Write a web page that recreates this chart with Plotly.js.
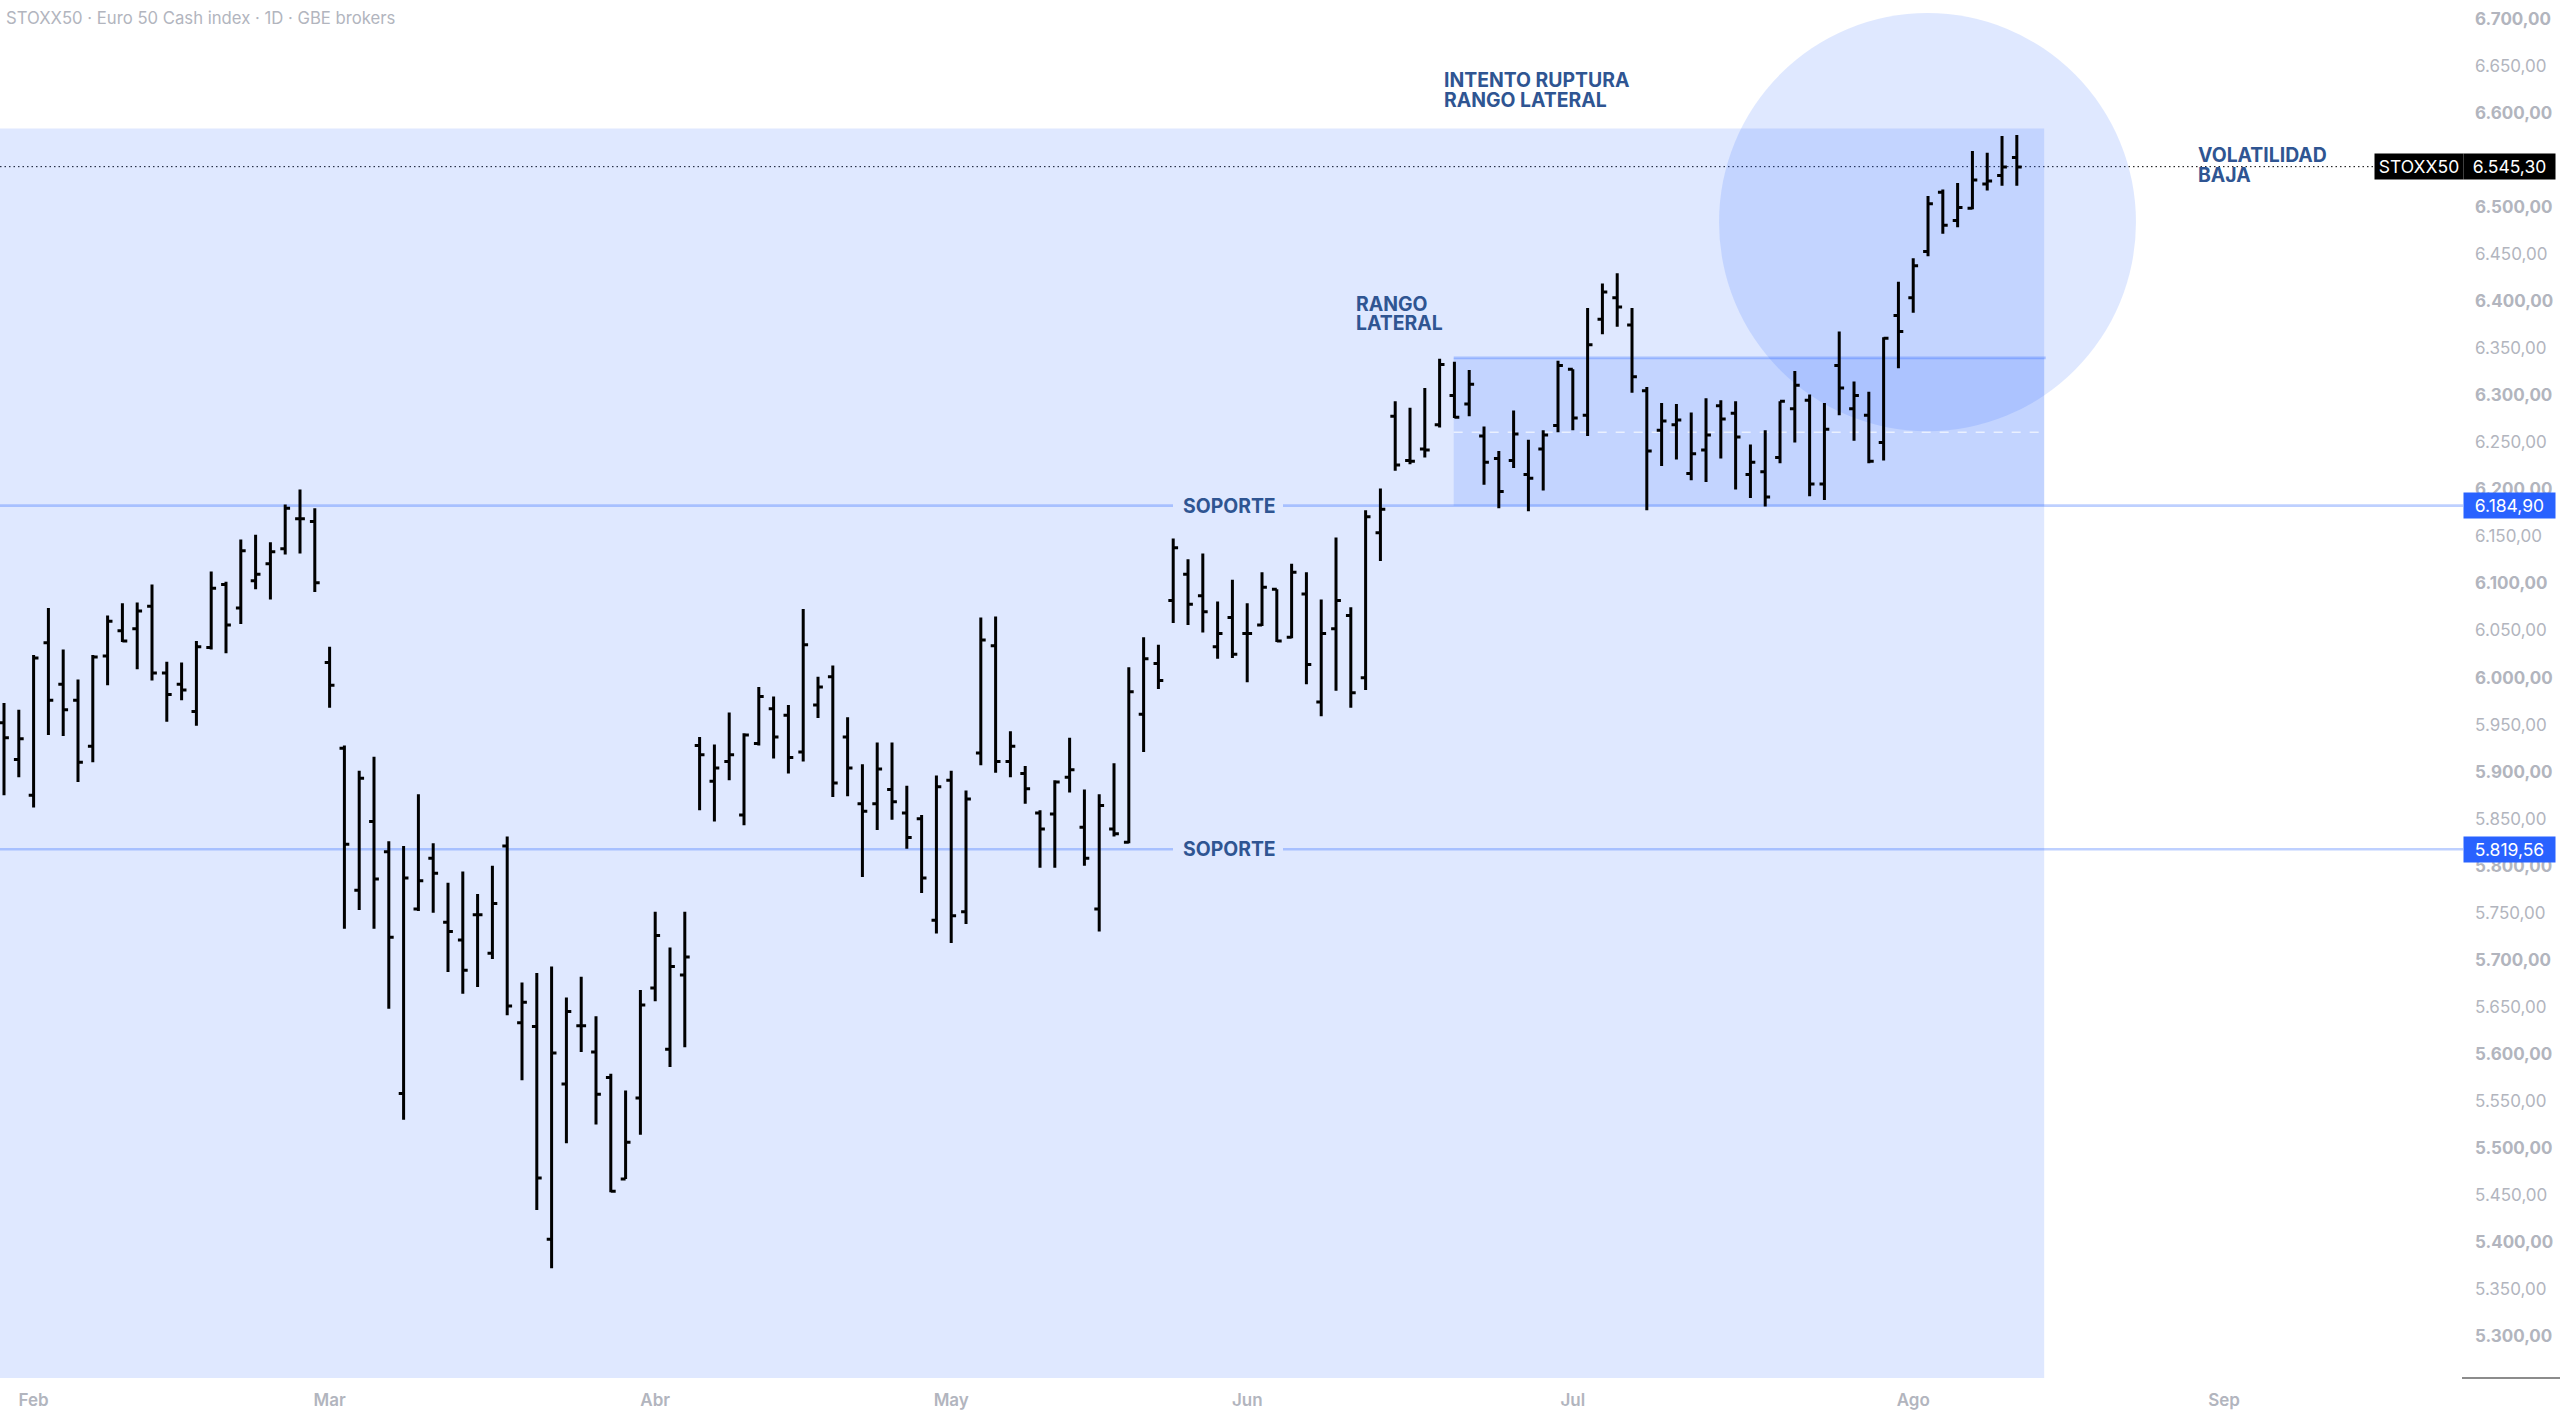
<!DOCTYPE html>
<html>
<head>
<meta charset="utf-8">
<script src="https://cdn.plot.ly/plotly-3.0.1.min.js"></script>
<style>
body { margin: 0; background: #fff; }
</style>
</head>
<body>
<div id="chart" style="width:2560px;height:1417px"></div>
<script>
// daily bars, Euro Stoxx 50 cash
var opens = [5954,5915,5877,6039,5995,5978,5929,6025,6052,6054,6078,6007,5995,5966,6034,6101,6076,6105,6123,6139,6171,6168,6018,
    5927,5776,5849,5817,5560,5756,5810,5742,5723,5750,5709,5823,5635,5631,5405,5570,5632,5604,5577,5469,5555,5672,5607,5686,
    5930,5892,5913,5856,5932,5969,5962,5923,5973,6003,5939,5868,5868,5883,5858,5852,5744,5893,5753,5922,6036,5913,5900,5858,5857,5896,5843,5756,5841,5827,5963,6017,
    6084,6112,6089,6035,6066,6049,6058,6096,6045,6091,5976,6054,6068,6002,6156,
    6280,6233,6245,6271,6302,6293,6259,6235,6233,6218,6245,6270,6330,6281,6383,6406,6377,6307,6265,6271,6219,6244,6291,6283,6218,6221,6236,6288,
    6297,6208,6334,6288,6281,6252,6387,6406,6455,6518,6488,6501,6527,6536,6555];
var highs = [5975,5968,6026,6076,6032,6000,6026,6068,6081,6082,6101,6019,6018,6041,6115,6104,6149,6154,6146,6186,6202,6182,6035,
    5930,5903,5918,5828,5823,5878,5826,5784,5796,5772,5802,5833,5678,5688,5695,5662,5684,5642,5581,5563,5670,5753,5715,5753,
    5939,5931,5965,5943,5992,5982,5973,6075,6003,6015,5960,5910,5933,5933,5887,5856,5898,5903,5882,6066,6067,5945,5908,5861,5893,5938,5883,5878,5911,6013,6045,6037,
    6150,6128,6134,6083,6106,6081,6114,6096,6123,6114,6085,6151,6077,6180,6203,
    6296,6289,6310,6341,6338,6329,6269,6243,6286,6255,6265,6339,6330,6395,6421,6432,6395,6311,6294,6293,6284,6299,6297,6296,6250,6265,6296,6328,
    6303,6294,6370,6317,6306,6364,6423,6448,6514,6521,6528,6562,6560,6578,6579];
var lows = [5877,5896,5864,5941,5940,5891,5912,5994,6040,6011,5999,5955,5978,5951,6032,6028,6059,6096,6085,6133,6134,6093,5970,
    5735,5755,5735,5650,5532,5754,5752,5689,5666,5673,5703,5643,5574,5436,5374,5507,5604,5527,5455,5469,5516,5658,5588,5609,
    5861,5849,5893,5845,5930,5916,5900,5913,5959,5875,5876,5790,5840,5851,5820,5773,5730,5720,5740,5909,5901,5896,5868,5800,5800,5880,5802,5732,5833,5826,5923,5990,
    6060,6058,6050,6022,6023,5997,6057,6040,6044,5995,5961,5988,5970,5989,6126,
    6222,6229,6236,6268,6278,6280,6207,6182,6225,6179,6201,6263,6265,6259,6367,6375,6305,6180,6227,6234,6212,6210,6235,6202,6193,6184,6230,6252,
    6195,6191,6281,6254,6230,6233,6331,6390,6450,6474,6481,6500,6520,6525,6525];
var closes = [5938,5937,6023,5978,5968,5912,6024,6062,6041,6073,6007,5984,5989,6035,6097,6058,6137,6112,6136,6182,6171,6103,5994,
    5825,5895,5788,5726,5789,5786,5794,5732,5691,5750,5762,5653,5657,5470,5603,5647,5632,5559,5456,5508,5654,5728,5695,5705,
    5920,5906,5920,5941,5982,5939,5917,6037,5992,5890,5906,5860,5905,5870,5832,5789,5886,5749,5873,6042,5913,5929,5884,5841,5891,5904,5810,5866,5836,5987,6022,5999,
    6140,6080,6072,6049,6027,6049,6098,6041,6114,6016,6049,6084,5986,6173,6181,
    6228,6232,6244,6335,6279,6314,6231,6200,6261,6214,6260,6334,6278,6356,6412,6396,6322,6243,6275,6276,6240,6260,6277,6258,6231,6194,6296,6313,
    6208,6266,6310,6302,6232,6363,6370,6440,6506,6483,6502,6531,6530,6545,6545];

var monthTicks = [2, 22, 44, 64, 84, 106, 129, 150];
var monthLabels = ["Feb", "Mar", "Abr", "May", "Jun", "Jul", "Ago", "Sep"];

// 6.550,00 sits behind the last price tag, so it has no label
var priceTicks = [5300,5350,5400,5450,5500,5550,5600,5650,5700,5750,5800,5850,5900,5950,6000,6050,6100,6150,6200,6250,6300,6350,6400,6450,6500,6550,6600,6650,6700];
var priceLabels = ["5.300,00","5.350,00","5.400,00","5.450,00","5.500,00","5.550,00","5.600,00","5.650,00","5.700,00","5.750,00","5.800,00","5.850,00","5.900,00","5.950,00","6.000,00","6.050,00","6.100,00","6.150,00","6.200,00","6.250,00","6.300,00","6.350,00","6.400,00","6.450,00","6.500,00","","6.600,00","6.650,00","6.700,00"];

var supportHigh = 6184.9;
var supportLow = 5819.56;
var lastPrice = 6545.3;
var rangeTop = 6342;
var rangeMid = 6263;
var zoneTop = 6586;

var plotW = 2470;
var fill = 'rgba(41,98,255,0.15)';
var levelColor = 'rgba(41,98,255,0.3)';
var noteColor = '#2f5592';
var greyText = '#b2b5be';

function toPaper(px) { return px / plotW; }

function note(text, px, price) {
    return {
        text: text, xref: 'paper', yref: 'y', x: toPaper(px), y: price,
        xanchor: 'left', yanchor: 'middle', showarrow: false,
        font: {family: 'Inter', size: 19.4, color: noteColor, weight: 700}
    };
}

function tag(text, px, w, price, bg) {
    return {
        text: text, xref: 'paper', yref: 'y', x: toPaper(px), y: price,
        xanchor: 'left', yanchor: 'middle', showarrow: false,
        width: w, height: 25, bgcolor: bg, borderpad: 0, align: 'center',
        font: {family: 'Inter', size: 17.5, color: '#ffffff'}
    };
}

function supportLine(price, x0, x1) {
    return {
        type: 'line', layer: 'below', xref: 'paper', yref: 'y',
        x0: toPaper(x0), x1: toPaper(x1), y0: price, y1: price,
        line: {color: levelColor, width: 2.7}
    };
}

var xs = opens.map(function (v, i) { return i; });

var data = [{
    type: 'ohlc',
    x: xs,
    open: opens,
    high: highs,
    low: lows,
    close: closes,
    tickwidth: 0.33,
    increasing: {line: {color: '#000000', width: 3}},
    decreasing: {line: {color: '#000000', width: 3}},
    hoverinfo: 'skip'
}];

var shapes = [
    // big blue zone
    {type: 'rect', layer: 'below', xref: 'x', yref: 'y', x0: -1, x1: 137.85, y0: 5257.4, y1: zoneTop, line: {width: 0}, fillcolor: fill},
    // lateral range
    {type: 'rect', layer: 'below', xref: 'x', yref: 'y', x0: 97.95, x1: 137.85, y0: supportHigh, y1: rangeTop, line: {width: 0}, fillcolor: fill},
    {type: 'line', layer: 'below', xref: 'x', yref: 'y', x0: 97.95, x1: 137.95, y0: rangeTop, y1: rangeTop, line: {color: levelColor, width: 2.7}},
    {type: 'line', layer: 'below', xref: 'x', yref: 'y', x0: 97.95, x1: 137.85, y0: rangeMid, y1: rangeMid, line: {color: 'rgba(255,255,255,0.65)', width: 1.5, dash: 'dash'}},
    // volatility circle
    {type: 'circle', layer: 'below', xref: 'x', yref: 'y', x0: 115.88, x1: 144.05, y0: 6264, y1: 6708.6, line: {width: 0}, fillcolor: fill},
    supportLine(supportHigh, 0, 1173),
    supportLine(supportHigh, 1283, 2463),
    supportLine(supportLow, 0, 1173),
    supportLine(supportLow, 1283, 2463),
    // last price dotted
    {type: 'line', layer: 'below', xref: 'paper', yref: 'y', x0: 0, x1: toPaper(2374), y0: lastPrice, y1: lastPrice, line: {color: '#000000', width: 1, dash: '1.5px,3px'}},
    // corner of the price scale
    {type: 'line', xref: 'paper', yref: 'paper', x0: toPaper(2462), x1: toPaper(2560), y0: 0, y1: 0, line: {color: '#666666', width: 1.5}}
];

var annotations = [
    {text: 'STOXX50 · Euro 50 Cash index · 1D · GBE brokers', xref: 'paper', yref: 'y', x: toPaper(4), y: 6703,
        xanchor: 'left', yanchor: 'middle', showarrow: false, font: {family: 'Inter', size: 16.7, color: greyText}},
    note('INTENTO RUPTURA', 1442, 6637),
    note('RANGO LATERAL', 1442, 6616),
    note('RANGO', 1354, 6399),
    note('LATERAL', 1354, 6379),
    note('VOLATILIDAD', 2196, 6558),
    note('BAJA', 2196, 6536),
    note('SOPORTE', 1181, supportHigh),
    note('SOPORTE', 1181, supportLow),
    tag('STOXX50', 2374, 88, lastPrice, '#000000'),
    tag('6.545,30', 2463, 91, lastPrice, '#000000'),
    tag('6.184,90', 2463, 91, supportHigh, '#2962ff'),
    tag('5.819,56', 2463, 91, supportLow, '#2962ff')
];

var layout = {
    width: 2560,
    height: 1417,
    paper_bgcolor: '#ffffff',
    plot_bgcolor: '#ffffff',
    margin: {l: 0, r: 90, t: 0, b: 39},
    showlegend: false,
    hovermode: false,
    xaxis: {
        range: [-0.27, 166.62],
        showgrid: false,
        zeroline: false,
        showline: false,
        rangeslider: {visible: false},
        tickmode: 'array',
        tickvals: monthTicks,
        ticktext: monthLabels,
        ticks: '',
        ticklabelstandoff: 10,
        tickfont: {family: 'Inter', size: 17, color: greyText, weight: 600}
    },
    yaxis: {
        side: 'right',
        range: [5257.4, 6722.5],
        showgrid: false,
        zeroline: false,
        showline: false,
        tickmode: 'array',
        tickvals: priceTicks,
        ticktext: priceLabels.map(function (t, i) { return i % 2 === 0 && t ? '<b>' + t + '</b>' : t; }),
        ticks: '',
        ticklabelstandoff: 4,
        ticklabelshift: -2,
        tickfont: {family: 'Inter', size: 17, color: greyText}
    },
    shapes: shapes,
    annotations: annotations
};

Plotly.newPlot('chart', data, layout, {displayModeBar: false, staticPlot: true});
</script>
</body>
</html>
